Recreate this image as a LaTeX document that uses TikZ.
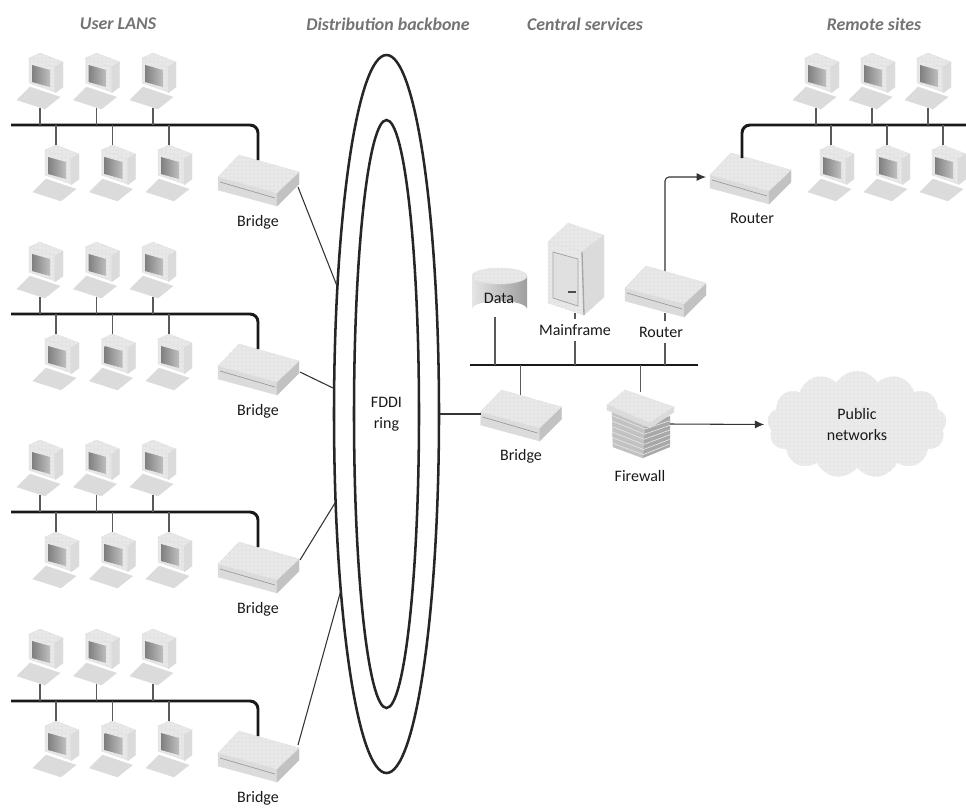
\documentclass[tikz,border=0pt]{standalone}
\usepackage{fontspec}
\setmainfont{Carlito}
\usetikzlibrary{arrows.meta,calc,patterns,shapes.geometric,shapes.symbols}

\tikzset{
  lbl/.style={font=\fontsize{12}{15.5}\selectfont,align=center,inner sep=0.75pt,text=black!90},
  head/.style={font=\fontsize{13.4}{16}\selectfont\bfseries\itshape,inner sep=0.75pt,text=black!55},
  busline/.style={line width=2.2pt,color=black!90,rounded corners=6pt},
  stalk/.style={line width=0.9pt,color=black!65},
  wire/.style={line width=0.8pt,color=black!80},
  ringline/.style={draw=black!85,line width=1.9pt,ellipse,inner sep=0pt},
  topface/.style={fill=black!10,draw=black!12,line width=0.3pt,postaction={pattern=dots,pattern color=white}},
  midface/.style={fill=black!14,draw=black!14,line width=0.3pt},
  darkface/.style={fill=black!24,draw=black!24,line width=0.3pt},
  every pic/.style={yscale=-1},
  pcunit/.pic={
    \coordinate (-base) at (0,0);
    \coordinate (-top) at (0,-55);
    \path[midface] (-23,-8) -- (-10,-21) -- (20,-11) -- (5,1) -- cycle;
    \path[topface] (-11,-50) -- (0,-55) -- (23,-46) -- (15,-40) -- cycle;
    \path[topface] (-11,-50) -- (15,-41) -- (15,-16) -- (-11,-25) -- cycle;
    \path[midface] (15,-41) -- (23,-46) -- (23,-21) -- (15,-15) -- cycle;
    \path[left color=black!50,right color=black!25] (-8,-43) -- (10,-38) -- (10,-21) -- (-8,-26) -- cycle;
  },
  boxunit/.pic={
    \coordinate (-top) at (0,-20);
    \coordinate (-left) at (-40,-1);
    \coordinate (-bottom) at (0,22);
    \path[midface] (-40,-3) -- (19,13) -- (19,26) -- (-40,10) -- cycle;
    \path[darkface] (19,13) -- (41,-8) -- (41,4) -- (19,26) -- cycle;
    \path[topface] (-19,-25) -- (41,-8) -- (19,13) -- (-40,-3) -- cycle;
    \draw[black!40,line width=0.5pt] (-38,2) -- (17,18);
  },
}

\begin{document}
\begin{tikzpicture}[x=0.75pt,y=0.75pt,yscale=-1,xscale=1]
\useasboundingbox (0,0) rectangle (966,808);

% Column titles
\node[head] (ttlusers) at (118,24) {User LANS};
\node[head] (ttlback) at (388,24) {Distribution backbone};
\node[head] (ttlcentral) at (585,24) {Central services};
\node[head] (ttlremote) at (874,24) {Remote sites};

% FDDI ring
\node[ringline,minimum width=78.75pt,minimum height=538.5pt] (ringout) at (386.5,414) {};
\node[ringline,minimum width=48.75pt,minimum height=441pt,lbl] (ringin) at (386.5,414) {FDDI\\ring};

% User LANs
\foreach \r/\dy in {A/0,B/189,C/387,D/576}{
  \coordinate (bus\r) at (11,125+\dy);
  \pic (br\r) at (258,180+\dy) {boxunit};
  \draw[busline] (bus\r) -| (br\r-top);
  \foreach \i/\x in {1/40,2/96.5,3/153}{
    \pic (up\r\i) at (\x,108+\dy) {pcunit};
    \draw[stalk] (up\r\i-base) -- (up\r\i-base |- bus\r);
  }
  \foreach \i/\x in {1/56,2/112.5,3/169}{
    \pic (lo\r\i) at (\x,200+\dy) {pcunit};
    \draw[stalk] (lo\r\i-top) -- (lo\r\i-top |- bus\r);
  }
  \node[lbl] (brlbl\r) at (258,222+\dy) {Bridge};
}

% Bridges to the ring
\coordinate (linkA) at (298,187);
\coordinate (ringA) at (337,286);
\coordinate (linkB) at (300,372);
\coordinate (ringB) at (333,388);
\coordinate (linkC) at (300,560);
\coordinate (ringC) at (335,503);
\coordinate (linkD) at (298,745);
\coordinate (ringD) at (341,590);
\draw[wire] (linkA) -- (ringA);
\draw[wire] (linkB) -- (ringB);
\draw[wire] (linkC) -- (ringC);
\draw[wire] (linkD) -- (ringD);

% Central services
\coordinate (busS) at (470,365);
\coordinate (busE) at (698,365);
\draw[busline] (busS) -- (busE);

% Data
\path[left color=black!10,right color=black!38] (472,276) -- (472,309) arc[start angle=180,end angle=360,x radius=27.5,y radius=8] -- (527,276) -- cycle;
\path[topface] (499.5,276) ellipse[x radius=27.5,y radius=8];
\node[lbl] (data) at (499,298) {Data};
\coordinate (database) at (495,317);
\draw[stalk] (database) -- (database |- busS);

% Mainframe
\path[topface] (548,242) -- (568,223) -- (603,235) -- (582,252) -- cycle;
\path[topface] (548,242) -- (582,252) -- (584,315) -- (548,303) -- cycle;
\path[midface] (582,252) -- (604,235) -- (604,297) -- (584,315) -- cycle;
\draw[black!35,line width=1pt] (582,252) -- (584,315);
\draw[black!35,line width=0.6pt,fill=black!12] (553,252) -- (578,259) -- (578,306) -- (553,298) -- cycle;
\draw[black!70,line width=1pt] (568,292) -- (576,292);
\coordinate (mainbase) at (575,313);
\draw[stalk] (mainbase) -- (mainbase |- busS);
\node[lbl,fill=white,inner ysep=4pt] (mainlbl) at (575,330) {Mainframe};

% Router and link to remote site
\pic (brR) at (665,291) {boxunit};
\draw[stalk] (brR-bottom) -- (brR-bottom |- busS);
\node[lbl,fill=white,inner ysep=4pt] (routerlbl) at (661,332) {Router};
\coordinate (brSin) at (706,177);
\draw[wire,rounded corners=3pt,-{Latex[length=7pt,width=6pt]}] (brR-top) |- (brSin);

% Remote router
\pic (brS) at (750,178) {boxunit};
\node[lbl] (brSlbl) at (752,218) {Router};
\coordinate (brSup) at (742,158);
\coordinate (busR) at (966,125);
\draw[busline] (brSup) |- (busR);
\foreach \i/\x in {1/816,2/872,3/928}{
  \pic (upR\i) at (\x,108) {pcunit};
  \draw[stalk] (upR\i-base) -- (upR\i-base |- busR);
}
\foreach \i/\x in {1/831,2/887,3/943}{
  \pic (loR\i) at (\x,200) {pcunit};
  \draw[stalk] (loR\i-top) -- (loR\i-top |- busR);
}

% Bridge to ring
\pic (brE) at (520.5,415) {boxunit};
\draw[stalk] (brE-top) -- (brE-top |- busS);
\draw[wire] (ringout.east) -- (brE-left);
\node[lbl] (brElbl) at (521,456) {Bridge};

% Firewall
\path[darkface] (612,410) -- (645,424) -- (643,458) -- (613,447) -- cycle;
\path[fill=black!34] (645,424) -- (670,416) -- (670,447) -- (643,458) -- cycle;
\foreach \t in {0.15,0.3,0.45,0.6,0.75,0.9}{
  \draw[black!10,line width=0.5pt] ($(612,410)!\t!(613,447)$) -- ($(645,424)!\t!(643,458)$) -- ($(670,416)!\t!(670,447)$);
}
\path[topface] (625,390) -- (674,407) -- (650,423) -- (607,405) -- cycle;
\path[midface] (607,405) -- (650,423) -- (674,407) -- (674,412) -- (650,428) -- (607,410) -- cycle;
\coordinate (fwtop) at (640.5,392);
\draw[stalk] (fwtop) -- (fwtop |- busS);
\node[lbl] (fwlbl) at (640,476) {Firewall};

% Public networks
\node[cloud,cloud puffs=13,cloud puff arc=120,aspect=1.7,fill=black!9,draw=black!9,inner sep=0pt,minimum width=134pt,minimum height=80pt,lbl,postaction={pattern=dots,pattern color=white}] (cloudnet) at (857,424.5) {Public\\networks};
\coordinate (fweast) at (670,424);
\draw[wire,-{Latex[length=7pt,width=6pt]},shorten >=3pt] (fweast) -- (cloudnet.west);

\end{tikzpicture}
\end{document}
